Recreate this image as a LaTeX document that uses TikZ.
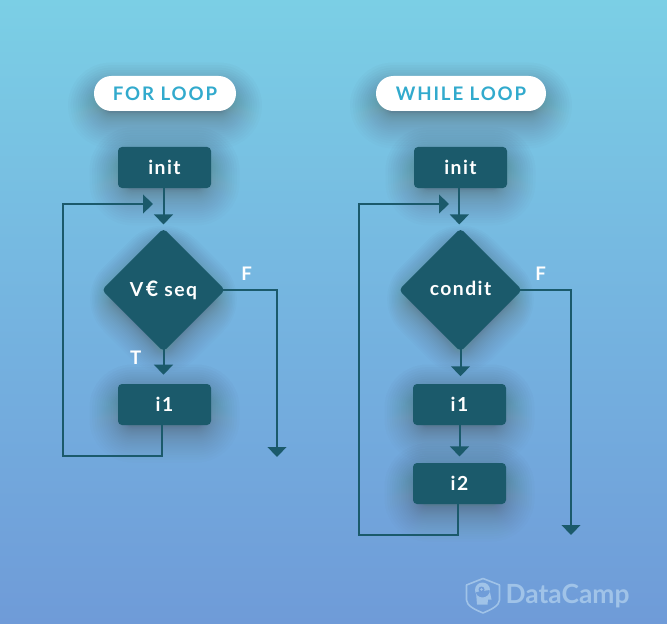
\documentclass[tikz,border=0pt]{standalone}
\usepackage{fontspec}
\setmainfont{Lato}
\newfontfamily\spaced[LetterSpace=7.5]{Lato}
\newfontfamily\spacedwide[LetterSpace=10]{Lato}
\usetikzlibrary{shapes.geometric,arrows.meta}
\definecolor{deep}{RGB}{27,90,107}
\definecolor{pilltext}{RGB}{50,170,205}
\definecolor{logoc}{RGB}{160,195,232}
\definecolor{bgtop}{RGB}{123,207,229}
\definecolor{bgmid}{RGB}{117,180,224}
\definecolor{bgbot}{RGB}{111,155,216}
\definecolor{shade}{RGB}{14,50,70}
\tikzset{
  x=0.75pt,y=-0.75pt,
  stepbox/.style={draw=none,fill=deep,rounded corners=3pt,inner sep=0pt,minimum width=69.75pt,minimum height=30.75pt,text=white,font=\spaced\bfseries\fontsize{14.5pt}{17pt}\selectfont},
  decision/.style={diamond,aspect=1,draw=none,fill=deep,rounded corners=3pt,inner sep=0pt,text=white,minimum width=92.5pt,minimum height=92.5pt,font=\spaced\bfseries\fontsize{14.5pt}{17pt}\selectfont},
  pill/.style={fill=white,rounded corners=13pt,inner sep=0pt,minimum height=26.25pt,text=pilltext,font=\spacedwide\bfseries\fontsize{14pt}{17pt}\selectfont},
  flow/.style={draw=deep,line width=1.5pt,-{Triangle[width=14pt,length=7.5pt]}},
  fromtip/.style={shorten <=-2pt},
  branch/.style={text=white,font=\bfseries\fontsize{14pt}{17pt}\selectfont,inner sep=0pt},
}
% soft shadows: layers packed tighter near the shape, so the edge fades out
\newcommand{\softbox}[5][9]{%
  \foreach \k in {0,...,27}{%
    \pgfmathsetmacro{\g}{-7+36*(\k/27)^2}%
    \pgfmathsetmacro{\rr}{max(3,(\g+14)*0.75)}%
    \fill[shade,opacity=0.012,rounded corners=\rr pt]
      (#2-#4-\g,#3-#5-\g+#1) rectangle (#2+#4+\g,#3+#5+\g+#1);
  }}
\newcommand{\softdiamond}[4][9]{%
  \foreach \k in {0,...,27}{%
    \pgfmathsetmacro{\g}{-7+40*(\k/27)^2}%
    \pgfmathsetmacro{\rr}{max(3,(\g+12)*0.75)}%
    \fill[shade,opacity=0.012,rounded corners=\rr pt]
      (#2,#3-#4-\g+#1) -- (#2+#4+\g,#3+#1) -- (#2,#3+#4+\g+#1) -- (#2-#4-\g,#3+#1) -- cycle;
  }}
\begin{document}
\begin{tikzpicture}
\useasboundingbox (0,0) rectangle (667,624);
\fill[top color=bgtop,bottom color=bgbot,middle color=bgmid] (0,0) rectangle (667,624);

% shadows
\softbox[12]{165}{93.5}{68}{14}
\softbox[12]{461}{93.5}{82}{14}
\softbox{164.5}{167.5}{46}{20}
\softbox{460.5}{167.5}{46}{20}
\softdiamond{163.5}{290}{59}
\softdiamond{460.5}{290}{59}
\softbox{164.5}{404.5}{46}{20}
\softbox{459.5}{404.5}{46}{20}
\softbox{459.5}{483.5}{46}{20}

% headings
\node[pill,minimum width=106.5pt] (forT) at (165,93.5) {FOR LOOP};
\node[pill,minimum width=127.5pt] (whileT) at (461,93.5) {WHILE LOOP};

% for loop
\node[stepbox] (initL) at (164.5,167.5) {\raisebox{0.3pt}{init}};
\node[decision] (diaL) at (163.5,290) {\raisebox{2.2pt}{V\hspace{2pt}\fontsize{16pt}{17pt}\selectfont€\fontsize{14.5pt}{17pt}\selectfont\ seq}};
\node[stepbox] (oneL) at (164.5,404.5) {i1};
\coordinate (loopL) at (63,456);
\coordinate (tipL) at (153,204);
\coordinate (cornerFL) at (277,290);
\coordinate (endFL) at (277,457);

\draw[flow,shorten >=2.7pt] (initL.south -| diaL.north) -- (diaL.north);
\draw[flow,fromtip,shorten >=6.75pt] (diaL.south) -- (diaL.south |- oneL.north);
\draw[flow] ([xshift=-1.9pt]oneL.south) |- (loopL) |- (tipL);
\draw[flow,fromtip] (diaL.east) -- (cornerFL) -- (endFL);
\node[branch] (tL) at (135.7,358) {T};
\node[branch] (fL) at (246.7,273.5) {F};

% while loop
\node[stepbox] (initR) at (460.5,167.5) {\raisebox{0.3pt}{init}};
\node[decision] (diaR) at (460.5,290) {\raisebox{2.2pt}{condit}};
\node[stepbox] (oneR) at (459.5,404.5) {i1};
\node[stepbox] (twoR) at (459.5,483.5) {i2};
\coordinate (loopR) at (359,535);
\coordinate (tipR) at (449,204);
\coordinate (cornerFR) at (571,290);
\coordinate (endFR) at (571,535);

\draw[flow,shorten >=2.7pt] ([xshift=-0.9pt]initR.south) -- ([xshift=-0.9pt]diaR.north);
\draw[flow,fromtip,shorten >=5.6pt] (diaR.south) -- (diaR.south |- oneR.north);
\draw[flow,shorten >=4.7pt] (oneR.south) -- (twoR.north);
\draw[flow] ([xshift=-1pt]twoR.south) |- (loopR) |- (tipR);
\draw[flow,fromtip] (diaR.east) -- (cornerFR) -- (endFR);
\node[branch] (fR) at (540.7,273.5) {F};

% logo
\draw[logoc,line width=1.2pt,line join=round]
  (483,578.5) -- (499.5,585) -- (499.5,600) .. controls (499.5,606) and (490,610) .. (483,613)
  .. controls (476,610) and (466.5,606) .. (466.5,600) -- (466.5,585) -- cycle;
\fill[logoc] (482.5,590) circle (7.5)
  (476,592) -- (477,604.5) -- (487.5,604.5) -- (488,599.5) -- (491.5,599.5) -- (489.5,590) -- cycle;
\fill[bgbot] (481.5,589.5) circle (3);
\fill[logoc] (481.5,589.5) circle (1.3);
\node[text=logoc,font=\bfseries\fontsize{19.8pt}{24pt}\selectfont,inner sep=0pt] (logoT) at (567.5,596) {DataCamp};
\end{tikzpicture}
\end{document}
